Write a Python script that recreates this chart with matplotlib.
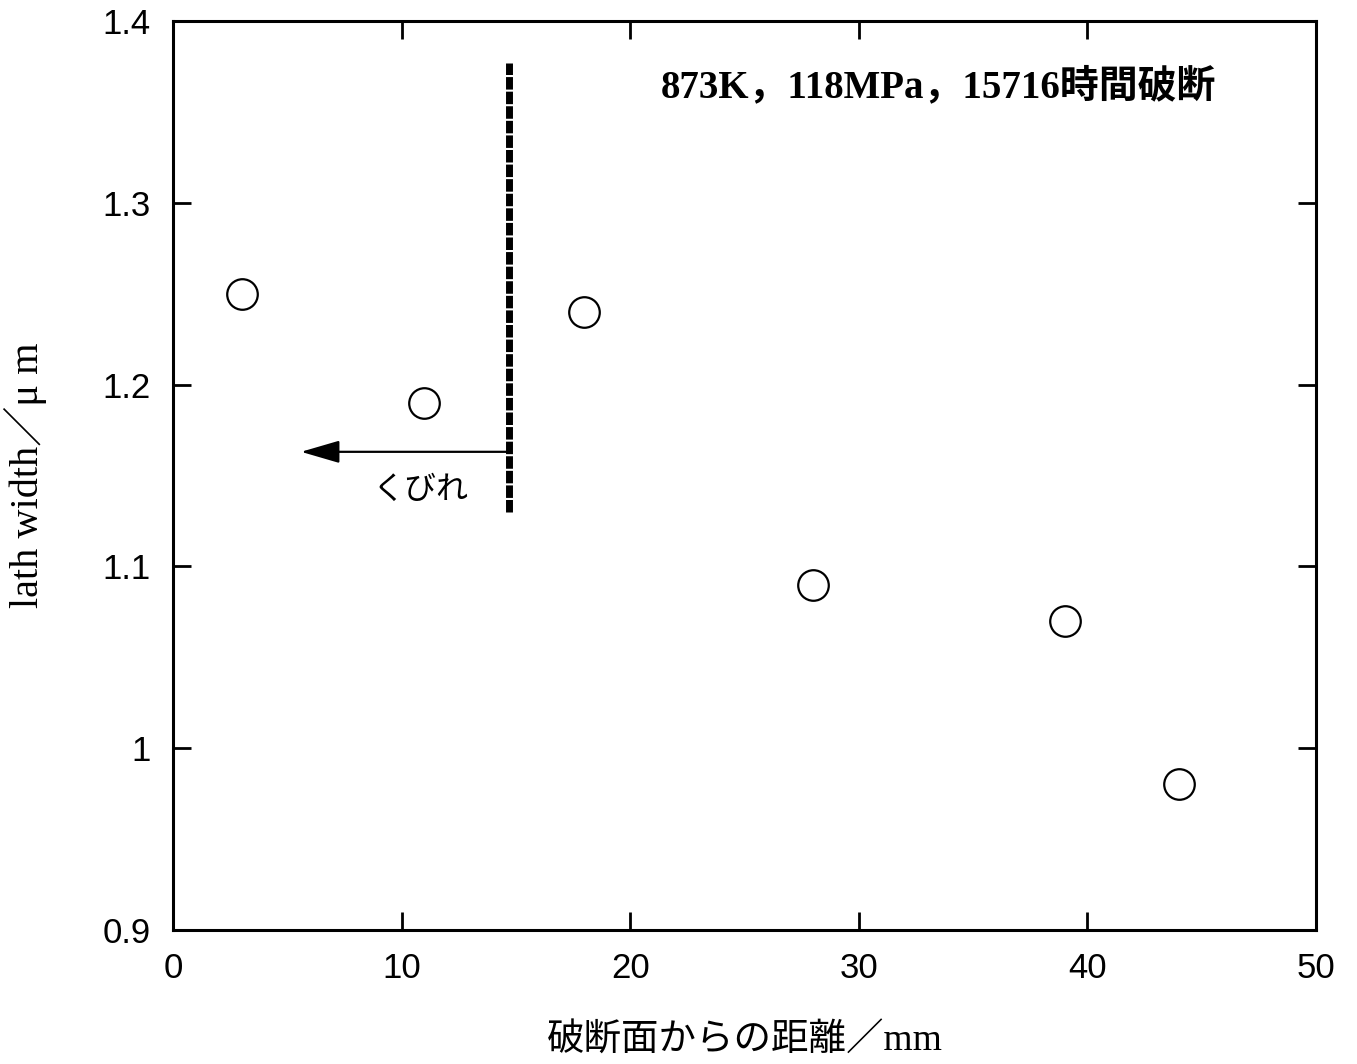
import matplotlib
matplotlib.use('Agg')
import matplotlib.pyplot as plt

# lath width measured at distances from the fracture surface
distance_mm = [3, 11, 18, 28, 39, 44]
lath_width_um = [1.25, 1.19, 1.24, 1.09, 1.07, 0.98]

# necking boundary and annotation
neck_x = 14.7
neck_y = (1.130, 1.377)
arrow_from = (14.6, 1.163)
arrow_to = (5.6, 1.163)

xticks = [0, 10, 20, 30, 40, 50]
yticks = [0.9, 1.0, 1.1, 1.2, 1.3, 1.4]
yticklabels = ['0.9', '1', '1.1', '1.2', '1.3', '1.4']

serif_jp = ['Liberation Serif', 'Noto Sans CJK JP']
sans = ['Liberation Sans', 'DejaVu Sans']

fig = plt.figure(figsize=(13.57, 10.64), dpi=100)
ax = fig.add_axes([0.1275, 0.126, 0.8423, 0.8543])

ax.plot(distance_mm, lath_width_um, linestyle='none', marker='o', markersize=22,
        markerfacecolor='white', markeredgecolor='black', markeredgewidth=1.6)

ax.plot([neck_x, neck_x], neck_y, color='black', linewidth=5,
        linestyle=(0, (1.8, 0.3)), solid_capstyle='butt', dash_capstyle='butt')
ax.annotate('', xy=arrow_to, xytext=arrow_from,
            arrowprops=dict(arrowstyle='-|>,head_length=1.2,head_width=0.35',
                            color='black', lw=1.6, mutation_scale=20,
                            shrinkA=0, shrinkB=0))
ax.text(10.8, 1.142, 'くびれ', fontsize=23, family=['Noto Sans CJK JP'],
        ha='center', va='center')

ax.text(33.5, 1.364, '873K，118MPa，15716時間破断', fontsize=28,
        fontweight='bold', family=serif_jp, ha='center', va='center')

ax.set_xlim(0, 50)
ax.set_ylim(0.9, 1.4)
ax.set_xticks(xticks)
ax.set_yticks(yticks)
ax.set_yticklabels(yticklabels)
ax.tick_params(direction='in', length=13, width=2, top=True, right=True,
               labelsize=25, pad=16)
for lab in ax.get_xticklabels() + ax.get_yticklabels():
    lab.set_family(sans)
for sp in ax.spines.values():
    sp.set_linewidth(2.2)

ax.set_xlabel('破断面からの距離／mm', fontsize=27, family=serif_jp, labelpad=28)
ax.yaxis.set_label_coords(-0.11, 0.51)
ax.set_ylabel('lath width／μ m', fontsize=29, family=serif_jp)

fig.savefig('out.png', dpi=100, facecolor='white')
